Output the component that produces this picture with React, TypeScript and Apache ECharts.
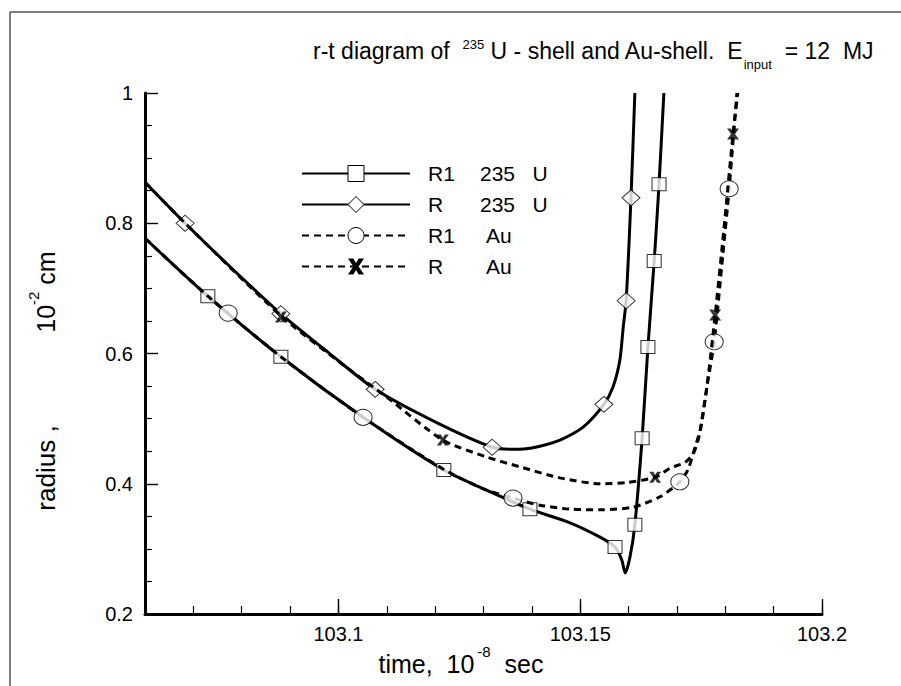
import React, { useEffect, useRef } from 'react';
import * as echarts from 'echarts';

// ---- axes ----
const xMin = 103.06;
const xMax = 103.2;
const yMin = 0.2;
const yMax = 1;
const xMajorTicks = [103.1, 103.15, 103.2];

// ---- series names / legend labels ----
const seriesNames = ['R1 235U', 'R 235U', 'R1 Au', 'R Au'];
const legendLeft = ['R1', 'R', 'R1', 'R'];
const legendRight = ['235   U', '235   U', 'Au', 'Au'];

// ---- curves [time, radius] ----
const r1U235Curve = [
  [103.06, 0.777], [103.073, 0.688], [103.0881, 0.595], [103.1051, 0.502],
  [103.1218, 0.421], [103.1307, 0.39], [103.1396, 0.361], [103.1479, 0.34],
  [103.1541, 0.318], [103.1572, 0.303], [103.1586, 0.283], [103.1593, 0.263],
  [103.1603, 0.288], [103.1613, 0.337], [103.1628, 0.47], [103.164, 0.61],
  [103.1653, 0.742], [103.1663, 0.86], [103.1673, 1.0],
];
const rU235Curve = [
  [103.06, 0.863], [103.0683, 0.8], [103.0782, 0.729], [103.0881, 0.661],
  [103.098, 0.601], [103.1076, 0.545], [103.12, 0.495], [103.1318, 0.456],
  [103.136, 0.453], [103.14, 0.455], [103.1458, 0.467], [103.1506, 0.487],
  [103.1549, 0.522], [103.1568, 0.549], [103.1582, 0.59], [103.1589, 0.641],
  [103.1595, 0.681], [103.1605, 0.839], [103.1613, 1.0],
];
const r1AuCurve = [
  [103.06, 0.777], [103.073, 0.688], [103.0881, 0.595], [103.1051, 0.502],
  [103.1218, 0.422], [103.13, 0.392], [103.1361, 0.378], [103.1417, 0.367],
  [103.1479, 0.361], [103.1541, 0.36], [103.1609, 0.364], [103.1665, 0.38],
  [103.1706, 0.403], [103.1723, 0.422], [103.1737, 0.455], [103.1748, 0.483],
  [103.1762, 0.549], [103.1777, 0.618], [103.1795, 0.752], [103.1808, 0.853],
  [103.1824, 1.0],
];
const rAuCurve = [
  [103.06, 0.863], [103.0683, 0.8], [103.0881, 0.658], [103.1, 0.588],
  [103.11, 0.533], [103.1216, 0.467], [103.1307, 0.441], [103.1375, 0.426],
  [103.1458, 0.409], [103.1541, 0.4], [103.1597, 0.402], [103.1655, 0.41],
  [103.1686, 0.424], [103.1717, 0.433], [103.1735, 0.448], [103.1748, 0.48],
  [103.1762, 0.549], [103.1779, 0.659], [103.1797, 0.79], [103.1816, 0.937],
  [103.1826, 1.0],
];

// ---- markers [time, radius] ----
const r1U235Marks = [
  [103.073, 0.688], [103.0881, 0.595], [103.1218, 0.421], [103.1396, 0.361],
  [103.1572, 0.303], [103.1613, 0.337], [103.1628, 0.47], [103.164, 0.61],
  [103.1653, 0.742], [103.1663, 0.86],
];
const rU235Marks = [
  [103.0683, 0.8], [103.0881, 0.661], [103.1076, 0.545], [103.1318, 0.456],
  [103.1549, 0.522], [103.1595, 0.681], [103.1605, 0.839],
];
const r1AuMarks = [
  [103.0772, 0.662], [103.1051, 0.502], [103.1361, 0.378], [103.1706, 0.403],
  [103.1777, 0.618], [103.1808, 0.853],
];
const rAuMarks = [
  [103.0881, 0.656], [103.1216, 0.467], [103.1655, 0.41], [103.1779, 0.659],
  [103.1816, 0.937],
];

const FONT = 'Liberation Sans, Arial, Helvetica, sans-serif';
const X_SYMBOL = 'path://M0,0 H4 L6,3.4 L8,0 H12 L8,6 L12,12 H8 L6,8.6 L4,12 H0 L4,6 Z';

function buildOption() {
  const curves = [r1U235Curve, rU235Curve, r1AuCurve, rAuCurve];
  const marks = [r1U235Marks, rU235Marks, r1AuMarks, rAuMarks];
  const symbols = ['rect', 'diamond', 'circle', X_SYMBOL];
  const sizes: any[] = [[14, 13], [18, 16], [18, 16], [12, 11]];
  const dashed = [false, false, true, true];
  const fills = ['#fff', '#fff', '#fff', '#000'];

  const series: any[] = [];
  seriesNames.forEach((name, i) => {
    const itemStyle = {
      color: fills[i],
      borderColor: '#000',
      borderWidth: i === 3 ? 0 : 1,
    };
    series.push({
      type: 'line',
      name,
      data: curves[i],
      showSymbol: false,
      symbol: symbols[i],
      symbolSize: sizes[i],
      smooth: 0.25,
      z: 2 + i,
      lineStyle: { color: '#000', width: 3, type: dashed[i] ? [7, 5] : 'solid' },
      itemStyle,
      emphasis: { disabled: true },
    });
    series.push({
      type: 'scatter',
      name,
      data: marks[i],
      symbol: symbols[i],
      symbolSize: sizes[i],
      z: 2 + i,
      itemStyle,
      emphasis: { disabled: true },
    });
  });

  const legendData = seriesNames.map((name, i) => ({
    name,
    itemStyle: {
      color: fills[i],
      borderColor: '#000',
      borderWidth: i === 3 ? 0 : 1,
    },
  }));

  return {
    animation: false,
    backgroundColor: '#fff',
    grid: { left: 145, right: 79, top: 93, bottom: 72 },
    legend: {
      orient: 'vertical',
      left: 301,
      top: 163,
      padding: 0,
      itemWidth: 108,
      itemHeight: 20,
      itemGap: 10,
      selectedMode: false,
      data: legendData,
      formatter: (name: string) => {
        const i = seriesNames.indexOf(name);
        return `{a|${legendLeft[i]}}{${i < 2 ? 'b' : 'c'}|${legendRight[i]}}`;
      },
      textStyle: {
        color: '#000',
        fontFamily: FONT,
        fontSize: 21,
        rich: {
          a: { width: 52, padding: [0, 0, 0, 13], fontSize: 21, fontFamily: FONT, color: '#000' },
          b: { fontSize: 21, fontFamily: FONT, color: '#000' },
          c: { padding: [0, 0, 0, 6], fontSize: 21, fontFamily: FONT, color: '#000' },
        },
      },
    },
    xAxis: [
      {
        type: 'value',
        min: xMin,
        max: xMax,
        interval: 0.01,
        position: 'bottom',
        axisLine: { show: true, lineStyle: { color: '#000', width: 3 } },
        axisTick: { show: true, inside: true, length: 8, lineStyle: { color: '#000', width: 1.2 } },
        axisLabel: {
          show: true,
          customValues: xMajorTicks,
          color: '#000',
          fontFamily: FONT,
          fontSize: 20,
          margin: 10,
          formatter: (v: number) => String(Math.round(v * 100) / 100),
        },
        splitLine: { show: false },
      },
      {
        type: 'value',
        min: xMin,
        max: xMax,
        position: 'bottom',
        offset: 0,
        axisLine: { show: false },
        axisTick: { show: true, inside: true, length: 15, customValues: xMajorTicks, lineStyle: { color: '#000', width: 1.4 } },
        axisLabel: { show: false },
        splitLine: { show: false },
      },
    ],
    yAxis: {
      type: 'value',
      min: yMin,
      max: yMax,
      interval: 0.2,
      axisLine: { show: true, lineStyle: { color: '#000', width: 3 } },
      axisTick: { show: true, inside: true, length: 13, lineStyle: { color: '#000', width: 1.4 } },
      minorTick: { show: true, splitNumber: 4, length: 7, lineStyle: { color: '#000', width: 1.2 } },
      axisLabel: {
        color: '#000',
        fontFamily: FONT,
        fontSize: 20,
        margin: 12,
        formatter: (v: number) => (Math.abs(v - 1) < 1e-9 ? '1' : v.toFixed(1)),
      },
      splitLine: { show: false },
      minorSplitLine: { show: false },
    },
    graphic: [
      { type: 'line', shape: { x1: 10, y1: 12, x2: 901, y2: 12 }, style: { stroke: '#555', lineWidth: 1.5 }, silent: true },
      { type: 'line', shape: { x1: 10, y1: 12, x2: 10, y2: 686 }, style: { stroke: '#555', lineWidth: 1.5 }, silent: true },
      {
        type: 'text',
        x: 313,
        y: 51,
        silent: true,
        style: {
          text: '{m|r-t diagram of  }{s|235}{m| U - shell and Au-shell.  E}{b|input}{m|  = 12  MJ}',
          align: 'left',
          verticalAlign: 'middle',
          fill: '#000',
          rich: {
            m: { fontSize: 23, fontFamily: FONT, lineHeight: 40, fill: '#000' },
            s: { fontSize: 13, fontFamily: FONT, lineHeight: 14, padding: [7, 0, 0, 0], verticalAlign: 'top', fill: '#000' },
            b: { fontSize: 13, fontFamily: FONT, lineHeight: 14, verticalAlign: 'bottom', fill: '#000' },
          },
        },
      },
      {
        type: 'text',
        x: 461,
        y: 664,
        silent: true,
        style: {
          text: '{m|time,  10}{s|-8}{m|  sec}',
          align: 'center',
          verticalAlign: 'middle',
          fill: '#000',
          rich: {
            m: { fontSize: 25, fontFamily: FONT, lineHeight: 40, fill: '#000' },
            s: { fontSize: 15, fontFamily: FONT, lineHeight: 26, verticalAlign: 'top', padding: [0, 0, 0, 3], fill: '#000' },
          },
        },
      },
      {
        type: 'text',
        x: 46,
        y: 468,
        rotation: Math.PI / 2,
        silent: true,
        style: {
          text: 'radius ,',
          align: 'center',
          verticalAlign: 'middle',
          fontSize: 26,
          fontFamily: FONT,
          fill: '#000',
        },
      },
      {
        type: 'text',
        x: 46,
        y: 292,
        rotation: Math.PI / 2,
        silent: true,
        style: {
          text: '{m|10}{s|-2}{m| cm}',
          align: 'center',
          verticalAlign: 'middle',
          fill: '#000',
          rich: {
            m: { fontSize: 25, fontFamily: FONT, lineHeight: 40, fill: '#000' },
            s: { fontSize: 15, fontFamily: FONT, lineHeight: 26, verticalAlign: 'top', fill: '#000' },
          },
        },
      },
    ],
    series,
  };
}

export default function App() {
  const ref = useRef<HTMLDivElement>(null);
  useEffect(() => {
    document.body.style.margin = '0';
    if (!ref.current) return;
    const chart = echarts.init(ref.current, undefined, { renderer: 'svg' });
    chart.setOption(buildOption() as any);
    return () => chart.dispose();
  }, []);
  return (
    <div
      ref={ref}
      style={{ position: 'absolute', left: 0, top: 0, width: 901, height: 686, background: '#fff' }}
    />
  );
}
